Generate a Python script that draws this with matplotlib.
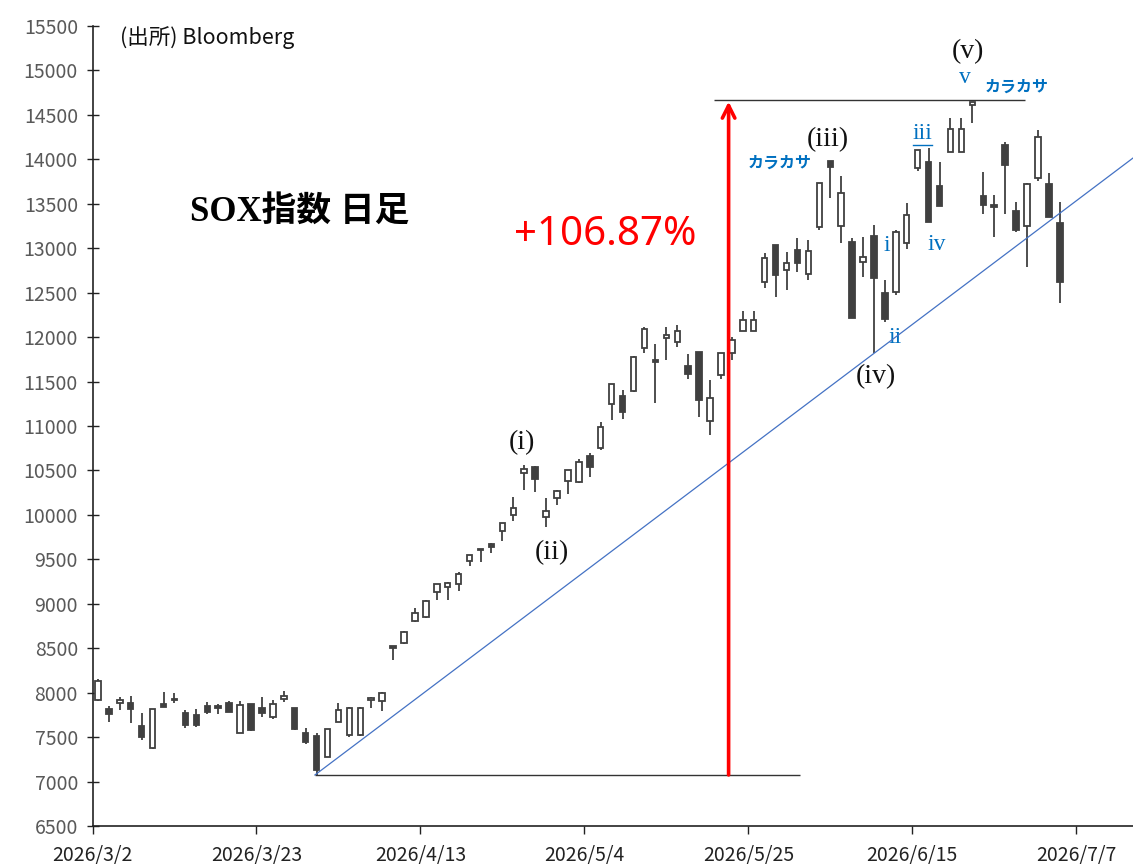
import matplotlib
matplotlib.use("Agg")
import numpy as np
import matplotlib.pyplot as plt
from matplotlib.lines import Line2D

# daily OHLC, one row per trading day (category axis)
opens = [7920, 7812, 7888, 7880, 7625, 7374, 7870, 7922, 7775, 7749,
         7850, 7831, 7887, 7550, 7869, 7824, 7730, 7929, 7824, 7542,
         7516, 7280, 7674, 7524, 7524, 7920, 7910, 8510, 8555, 8810,
         8855, 9129, 9192, 9219, 9481, 9600, 9672, 9819, 9999, 10467,
         10540, 9972, 10194, 10385, 10374, 10662, 10756, 11244, 11337, 11397,
         11874, 11742, 11986, 11949, 11675, 11832, 11052, 11576, 11825, 12072,
         12072, 12624, 13036, 12755, 12980, 12706, 13235, 13985, 13250, 13074,
         12841, 13141, 12500, 12504, 13055, 13899, 13974, 13700, 14086, 14086,
         14610, 13587, 13486, 14161, 13423, 13250, 13786, 13722, 13280]
highs = [8150, 7850, 7955, 7962, 7767, 7815, 8010, 8000, 7805, 7812,
         7891, 7869, 7910, 7910, 7872, 7947, 7917, 8022, 7830, 7606,
         7542, 7590, 7887, 7835, 7835, 7955, 8005, 8512, 8690, 8948,
         9040, 9220, 9240, 9354, 9550, 9606, 9687, 9905, 10205, 10561,
         10545, 10186, 10275, 10510, 10625, 10692, 11049, 11475, 11405, 11785,
         12110, 11919, 12110, 12136, 11810, 11832, 11515, 11817, 12005, 12297,
         12297, 12942, 13036, 12961, 13111, 13092, 13735, 13985, 13812, 13111,
         13130, 13261, 12642, 13200, 13513, 14110, 14130, 13966, 14461, 14461,
         14650, 13854, 13599, 14199, 13516, 13730, 14330, 13842, 13524]
lows = [7910, 7674, 7805, 7662, 7467, 7362, 7835, 7880, 7606, 7617,
        7760, 7760, 7779, 7545, 7572, 7730, 7704, 7899, 7580, 7422,
        7074, 7275, 7674, 7505, 7512, 7824, 7794, 8367, 8547, 8799,
        8836, 9042, 9042, 9147, 9429, 9466, 9575, 9710, 9931, 10280,
        10255, 9867, 10111, 10231, 10355, 10430, 10730, 11067, 11075, 11386,
        11825, 11262, 11742, 11892, 11525, 11100, 10899, 11532, 11742, 12072,
        12072, 12549, 12455, 12530, 12736, 12642, 13205, 13561, 13055, 12219,
        12680, 11817, 12174, 12474, 12988, 13869, 13291, 13479, 14086, 14086,
        14405, 13381, 13130, 13385, 13179, 12792, 13760, 13355, 12380]
closes = [8135, 7760, 7917, 7812, 7505, 7812, 7840, 7915, 7636, 7636,
          7786, 7829, 7786, 7861, 7585, 7767, 7869, 7966, 7587, 7449,
          7130, 7587, 7805, 7831, 7831, 7925, 8000, 8505, 8686, 8892,
          9035, 9219, 9237, 9335, 9548, 9605, 9642, 9905, 10074, 10512,
          10405, 10044, 10272, 10505, 10591, 10535, 10985, 11472, 11161, 11780,
          12087, 11716, 12024, 12072, 11585, 11296, 11311, 11817, 11967, 12192,
          12192, 12886, 12699, 12830, 12830, 12969, 13730, 13917, 13625, 12219,
          12905, 12661, 12200, 13179, 13374, 14105, 13291, 13479, 14341, 14341,
          14645, 13486, 13463, 13936, 13205, 13719, 14247, 13355, 12624]

tick_labels = ["2026/3/2", "2026/3/23", "2026/4/13", "2026/5/4",
               "2026/5/25", "2026/6/15", "2026/7/7"]
tick_every = 15
n_slots = 95.2

# index of the swing low / high used for the lines
low_idx = 20
low2_idx = 71
high_idx = 80

wave_labels = ["(i)", "(ii)", "(iii)", "(iv)", "(v)"]
wave_pos = [(39.3, 10809), (42.0, 9571), (67.3, 14217), (71.7, 11551), (80.1, 15207)]
sub_labels = ["i", "ii", "iii", "iv", "v"]
sub_pos = [(72.7, 13036), (73.4, 11990), (75.9, 14296), (77.2, 13047), (79.8, 14915)]
karakasa_pos = [(62.9, 13959), (84.6, 14814)]

INK = "#404040"
BLUE = "#0070C0"

plt.rcParams["font.family"] = ["Noto Sans CJK JP", "DejaVu Sans"]

fig = plt.figure(figsize=(11.33, 8.67), dpi=100)
ax = fig.add_axes([92.5 / 1133, 41 / 867, (1133 - 92.5) / 1133, 800 / 867])

o = np.array(opens, dtype=float)
h = np.array(highs, dtype=float)
l = np.array(lows, dtype=float)
c = np.array(closes, dtype=float)
x = np.arange(len(o)) + 0.5
up = c >= o

# wicks
ax.vlines(x, l, h, color=INK, lw=1.3, zorder=2)
# bodies
bottom = np.minimum(o, c)
height = np.maximum(np.abs(c - o), 18)
ax.bar(x[up], height[up], bottom=bottom[up], width=0.5,
       facecolor="white", edgecolor=INK, lw=1.3, zorder=3)
ax.bar(x[~up], height[~up], bottom=bottom[~up], width=0.5,
       facecolor=INK, edgecolor=INK, lw=1.3, zorder=3)

# trend line through the two lows, extended to the right edge
x0, y0 = 20.35, l[low_idx]
x1, y1 = low2_idx + 0.5, l[low2_idx]
slope = (y1 - y0) / (x1 - x0)
ax.plot([x0, n_slots], [y0, y0 + slope * (n_slots - x0)], color="#4472C4", lw=0.9, zorder=4)

# horizontal reference lines
ax.hlines(l[low_idx], 20.35, 64.7, color="#333333", lw=1.0, zorder=1)
ax.hlines(h[high_idx] + 15, 56.9, 85.3, color="#333333", lw=1.0, zorder=1)

# red arrow low -> high
ax.annotate("", xy=(58.2, h[high_idx]), xytext=(58.2, l[low_idx]),
            arrowprops=dict(arrowstyle="->,head_length=0.9,head_width=0.45",
                            color="red", lw=2.6, shrinkA=0, shrinkB=0), zorder=5)
ax.text(46.9, 13149, "+106.87%", color="red", fontsize=29, ha="center", va="center",
        family=["Noto Sans", "DejaVu Sans"])

# texts
ax.text(2.5, 15365, "(出所) Bloomberg", fontsize=15.5, ha="left", va="center", color="#111111")
ax.text(19.0, 13407, "SOX指数 日足", fontsize=25, fontweight="bold", ha="center", va="center",
        family=["Liberation Serif", "Noto Sans CJK JP"])

for lab, (px, py) in zip(wave_labels, wave_pos):
    ax.text(px, py, lab, fontsize=20, ha="center", va="center", color="#111111",
            family=["Liberation Serif", "DejaVu Serif"])
for lab, (px, py) in zip(sub_labels, sub_pos):
    ax.text(px, py, lab, fontsize=17, ha="center", va="center", color=BLUE,
            family=["Liberation Serif", "DejaVu Serif"])
# underline under the blue "iii"
ux, uy = sub_pos[2]
ax.add_line(Line2D([ux - 0.87, ux + 0.87], [uy - 140, uy - 140], color=BLUE, lw=1.0))
for px, py in karakasa_pos:
    ax.text(px, py, "カラカサ", fontsize=11.5, fontweight="bold", ha="center", va="center",
            color=BLUE)

# axes styling
ax.set_xlim(0, n_slots)
ax.set_ylim(6500, 15500)
ax.set_yticks(np.arange(6500, 15501, 500))
ax.set_xticks(np.arange(len(tick_labels)) * tick_every)
ax.set_xticklabels(tick_labels)
for side in ["top", "right"]:
    ax.spines[side].set_visible(False)
for side in ["left", "bottom"]:
    ax.spines[side].set_color("#222222")
    ax.spines[side].set_linewidth(1.2)
ax.tick_params(axis="y", direction="inout", length=9, width=1.0, labelsize=14,
               labelcolor="#595959", pad=6, color="#222222")
ax.tick_params(axis="x", direction="out", length=6, width=1.0, labelsize=14,
               labelcolor="#222222", pad=8, color="#222222")

fig.savefig("out.png", dpi=100)
